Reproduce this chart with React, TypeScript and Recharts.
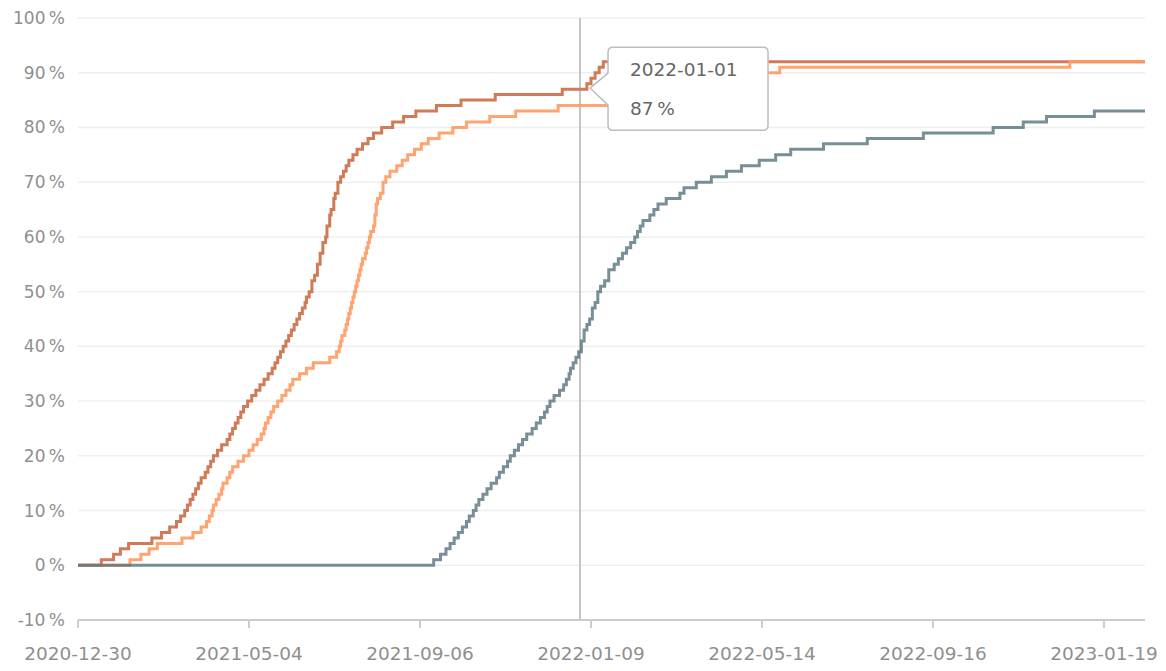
import React from 'react';
import {
    LineChart, Line, XAxis, YAxis, CartesianGrid, ReferenceLine, ReferenceDot
} from 'recharts';

// x values are days counted from START (2020-12-30)
const START = Date.UTC(2020, 11, 30);

const xTicks = [0, 125, 250, 375, 500, 625, 750];
const yTicks = [-10, 0, 10, 20, 30, 40, 50, 60, 70, 80, 90, 100];

// dark orange series: day of each step, value after the step (%)
const aDays = [0, 17, 26, 31, 37, 54, 61, 67, 72, 75, 78, 80, 82, 84, 86, 88, 90, 93, 95, 97, 99, 102, 105, 109, 111, 113, 115, 117, 119, 121, 124, 127, 130, 133, 136, 139, 142, 144, 146, 148, 150, 152, 154, 156, 158, 160, 162, 164, 166, 167, 169, 171, 173, 175, 177, 179, 181, 182, 184, 185, 187, 188, 190, 192, 194, 196, 198, 201, 204, 208, 212, 216, 222, 230, 238, 247, 262, 280, 305, 354, 372, 375, 378, 381, 384, 780];
const aPct = [0, 1, 2, 3, 4, 5, 6, 7, 8, 9, 10, 11, 12, 13, 14, 15, 16, 17, 18, 19, 20, 21, 22, 23, 24, 25, 26, 27, 28, 29, 30, 31, 32, 33, 34, 35, 36, 37, 38, 39, 40, 41, 42, 43, 44, 45, 46, 47, 48, 49, 50, 52, 53, 55, 57, 59, 60, 62, 64, 65, 67, 68, 70, 71, 72, 73, 74, 75, 76, 77, 78, 79, 80, 81, 82, 83, 84, 85, 86, 87, 88, 89, 90, 91, 92, 92];

// light orange series
const bDays = [0, 38, 46, 52, 58, 76, 84, 90, 94, 96, 98, 99, 101, 103, 105, 106, 109, 111, 113, 117, 121, 125, 128, 131, 134, 136, 137, 139, 141, 143, 146, 149, 152, 155, 157, 162, 167, 172, 184, 189, 191, 192, 193, 195, 196, 197, 198, 199, 200, 201, 202, 203, 204, 205, 206, 207, 208, 210, 211, 212, 213, 214, 216, 217, 218, 219, 221, 223, 225, 228, 233, 237, 241, 246, 251, 256, 264, 274, 284, 301, 320, 351, 395, 410, 425, 445, 470, 495, 513, 725, 780];
const bPct = [0, 1, 2, 3, 4, 5, 6, 7, 8, 9, 10, 11, 12, 13, 14, 15, 16, 17, 18, 19, 20, 21, 22, 23, 24, 25, 26, 27, 28, 29, 30, 31, 32, 33, 34, 35, 36, 37, 38, 39, 40, 41, 42, 43, 44, 45, 46, 47, 48, 49, 50, 51, 52, 53, 54, 55, 56, 57, 58, 59, 60, 61, 62, 64, 66, 67, 68, 70, 71, 72, 73, 74, 75, 76, 77, 78, 79, 80, 81, 82, 83, 84, 85, 86, 87, 88, 89, 90, 91, 92, 92];

// slate series
const cDays = [0, 260, 265, 269, 272, 275, 278, 281, 284, 286, 289, 291, 293, 296, 299, 302, 306, 308, 311, 314, 316, 319, 322, 325, 328, 332, 335, 338, 341, 343, 345, 348, 352, 355, 357, 359, 360, 362, 364, 366, 368, 370, 372, 374, 376, 378, 380, 382, 385, 388, 392, 395, 398, 401, 404, 407, 409, 411, 413, 418, 421, 424, 430, 440, 443, 452, 463, 474, 485, 498, 510, 521, 545, 577, 618, 669, 691, 708, 743, 780];
const cPct = [0, 1, 2, 3, 4, 5, 6, 7, 8, 9, 10, 11, 12, 13, 14, 15, 16, 17, 18, 19, 20, 21, 22, 23, 24, 25, 26, 27, 28, 29, 30, 31, 32, 33, 34, 35, 36, 37, 38, 39, 41, 43, 44, 45, 47, 48, 50, 51, 52, 54, 55, 56, 57, 58, 59, 60, 61, 62, 63, 64, 65, 66, 67, 68, 69, 70, 71, 72, 73, 74, 75, 76, 77, 78, 79, 80, 81, 82, 83, 83];

const TOOLTIP_DAY = 367;

const toRows = (days: number[], pct: number[]) => days.map((d, i) => ({ d, v: pct[i] }));
const dataA = toRows(aDays, aPct);
const dataB = toRows(bDays, bPct);
const dataC = toRows(cDays, cPct);

const fmtDate = (d: number) => new Date(START + d * 86400000).toISOString().slice(0, 10);
const fmtPct = (v: number) => `${v}\u2009%`;

const valueAt = (days: number[], pct: number[], day: number) => {
    let v = pct[0];
    days.forEach((d, i) => { if (d <= day) v = pct[i]; });
    return v;
};
const tipValue = valueAt(aDays, aPct, TOOLTIP_DAY);

const FONT = '"DejaVu Sans", Verdana, sans-serif';

// speech-bubble tooltip, anchored on the hovered point
const Bubble = (props: any) => {
    const { cx, cy } = props;
    const left = cx + 28, right = cx + 188, top = cy - 42, bottom = cy + 41, r = 5;
    const path = `M ${left + r} ${top} H ${right - r} Q ${right} ${top} ${right} ${top + r} V ${bottom - r} Q ${right} ${bottom} ${right - r} ${bottom} H ${left + r} Q ${left} ${bottom} ${left} ${bottom - r} V ${cy + 16} L ${cx + 10} ${cy - 1} L ${left} ${cy - 16} V ${top + r} Q ${left} ${top} ${left + r} ${top} Z`;
    return (
        <g>
            <path d={path} fill="#fff" stroke="#bdbdbd" strokeWidth={1.5} />
            <text x={cx + 50} y={cy - 13} fontFamily={FONT} fontSize={18.5} fill="#666">{fmtDate(TOOLTIP_DAY)}</text>
            <text x={cx + 50} y={cy + 26} fontFamily={FONT} fontSize={18.5} fill="#666">{fmtPct(tipValue)}</text>
        </g>
    );
};

export default function App() {
    return (
        <div style={{ width: 1150, height: 663, background: '#fff' }}>
            <LineChart width={1150} height={663} margin={{ top: 10, right: 13, left: 0, bottom: 0 }}>
                <CartesianGrid vertical={false} stroke="#efefef" strokeWidth={1.5} />
                <XAxis
                    dataKey="d"
                    type="number"
                    domain={[0, 780]}
                    ticks={xTicks}
                    tickFormatter={fmtDate}
                    height={51}
                    stroke="#cccccc"
                    strokeWidth={2}
                    tickSize={8}
                    tickMargin={19}
                    tick={{ fill: '#8f8f8f', fontSize: 18.5, fontFamily: FONT }}
                    allowDuplicatedCategory={false}
                />
                <YAxis
                    type="number"
                    domain={[-10, 100]}
                    ticks={yTicks}
                    width={70}
                    axisLine={false}
                    tickLine={false}
                    tickSize={0}
                    tickMargin={13}
                    tickFormatter={fmtPct}
                    tick={{ fill: '#8f8f8f', fontSize: 17, fontFamily: FONT }}
                />
                <ReferenceLine x={TOOLTIP_DAY} stroke="#c4c4c4" strokeWidth={2} />
                <Line data={dataA} dataKey="v" type="stepAfter" stroke="#d17a58" strokeWidth={3} dot={false} isAnimationActive={false} />
                <Line data={dataB} dataKey="v" type="stepAfter" stroke="#ff9a60" strokeOpacity={0.9} strokeWidth={3} dot={false} isAnimationActive={false} />
                <Line data={dataC} dataKey="v" type="stepAfter" stroke="#52707a" strokeOpacity={0.78} strokeWidth={3} dot={false} isAnimationActive={false} />
                <ReferenceDot x={TOOLTIP_DAY} y={tipValue} r={0} shape={Bubble} />
            </LineChart>
        </div>
    );
}
